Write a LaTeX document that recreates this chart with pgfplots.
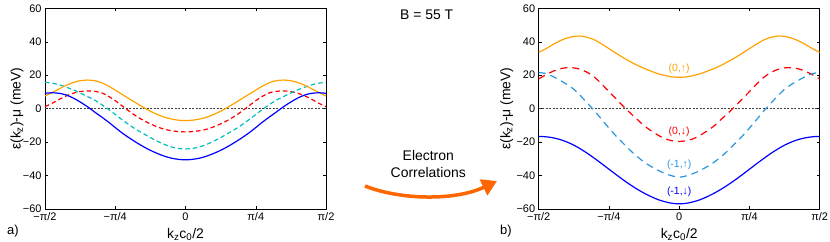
\documentclass[border=0pt]{standalone}
\usepackage{fontspec}
\setmainfont{Liberation Sans}
\usepackage{pgfplots}
\pgfplotsset{compat=1.18}
\usepackage{pgfplotstable}
\usetikzlibrary{arrows.meta}
\definecolor{morange}{RGB}{255,163,0}
\definecolor{mblue}{RGB}{0,0,255}
\definecolor{mred}{RGB}{255,0,0}
\definecolor{mcyan}{RGB}{0,190,190}
\definecolor{msky}{RGB}{40,150,220}
\definecolor{arrowor}{RGB}{255,102,0}

\pgfplotstableread{
t or bl cy rd
-0.500 7.6 9.2 15.7 1.2
-0.475 9.6 9.5 15.3 3.2
-0.450 11.8 9.2 14.3 5.5
-0.425 13.9 8.2 12.9 7.6
-0.400 15.6 6.4 11.3 9.2
-0.375 16.7 4.0 9.4 10.2
-0.350 17.1 1.3 7.3 10.6
-0.325 16.8 -1.8 5.3 10.4
-0.300 15.6 -4.8 2.6 9.6
-0.275 13.6 -7.9 -0.3 7.5
-0.250 11.1 -11.3 -3.5 4.8
-0.225 8.5 -14.6 -6.7 1.6
-0.200 5.9 -17.5 -9.7 -1.6
-0.175 3.3 -20.2 -12.5 -4.5
-0.150 0.8 -22.7 -14.9 -7.0
-0.125 -1.5 -24.9 -17.3 -9.1
-0.100 -3.5 -26.8 -19.5 -10.9
-0.075 -5.1 -28.4 -21.4 -12.3
-0.050 -6.2 -29.6 -22.9 -13.2
-0.025 -6.9 -30.3 -23.8 -13.7
0.000 -7.1 -30.6 -24.1 -13.9
0.025 -6.9 -30.3 -23.8 -13.7
0.050 -6.2 -29.6 -22.9 -13.2
0.075 -5.1 -28.4 -21.4 -12.3
0.100 -3.5 -26.8 -19.5 -10.9
0.125 -1.5 -24.9 -17.3 -9.1
0.150 0.8 -22.7 -14.9 -7.0
0.175 3.3 -20.2 -12.5 -4.5
0.200 5.9 -17.5 -9.7 -1.6
0.225 8.5 -14.6 -6.7 1.6
0.250 11.1 -11.3 -3.5 4.8
0.275 13.6 -7.9 -0.3 7.5
0.300 15.6 -4.8 2.6 9.6
0.325 16.8 -1.8 5.3 10.4
0.350 17.1 1.3 7.3 10.6
0.375 16.7 4.0 9.4 10.2
0.400 15.6 6.4 11.3 9.2
0.425 13.9 8.2 12.9 7.6
0.450 11.8 9.2 14.3 5.5
0.475 9.6 9.5 15.3 3.2
0.500 7.6 9.2 15.7 1.2
}\leftdata

\pgfplotstableread{
t or bl cy rd
-0.500 33.7 -16.6 21.6 17.8
-0.475 35.8 -16.8 21.0 20.2
-0.450 38.3 -17.4 19.3 22.3
-0.425 40.5 -18.4 17.0 23.8
-0.400 42.2 -19.9 14.6 24.5
-0.375 43.2 -21.8 11.6 24.4
-0.350 43.4 -24.2 7.5 23.4
-0.325 42.6 -26.9 3.0 21.5
-0.300 41.0 -29.9 -1.6 18.6
-0.275 38.6 -33.0 -6.6 14.6
-0.250 35.9 -36.2 -11.6 10.2
-0.225 33.2 -39.4 -16.3 5.9
-0.200 30.6 -42.5 -20.6 1.6
-0.175 28.2 -45.4 -24.8 -2.5
-0.150 26.0 -48.1 -28.6 -6.3
-0.125 24.1 -50.5 -31.9 -10.2
-0.100 22.4 -52.6 -34.6 -13.2
-0.075 20.9 -54.4 -36.9 -15.9
-0.050 19.8 -55.7 -38.8 -18.0
-0.025 19.0 -56.6 -40.2 -19.2
0.000 18.8 -56.9 -41.0 -19.6
0.025 19.0 -56.6 -40.2 -19.2
0.050 19.8 -55.7 -38.8 -18.0
0.075 20.9 -54.4 -36.9 -15.9
0.100 22.4 -52.6 -34.6 -13.2
0.125 24.1 -50.5 -31.9 -10.2
0.150 26.0 -48.1 -28.6 -6.3
0.175 28.2 -45.4 -24.8 -2.5
0.200 30.6 -42.5 -20.6 1.6
0.225 33.2 -39.4 -16.3 5.9
0.250 35.9 -36.2 -11.6 10.2
0.275 38.6 -33.0 -6.6 14.6
0.300 41.0 -29.9 -1.6 18.6
0.325 42.6 -26.9 3.0 21.5
0.350 43.4 -24.2 7.5 23.4
0.375 43.2 -21.8 11.6 24.4
0.400 42.2 -19.9 14.6 24.5
0.425 40.5 -18.4 17.0 23.8
0.450 38.3 -17.4 19.3 22.3
0.475 35.8 -16.8 21.0 20.2
0.500 33.7 -16.6 21.6 17.8
}\rightdata

\pgfplotsset{
  panel/.style={
    scale only axis, width=281bp, height=200.67bp,
    xmin=-0.5, xmax=0.5, ymin=-60, ymax=60,
    xtick={-0.5,-0.25,0,0.25,0.5},
    xticklabels={−π/2,−π/4,0,π/4,π/2},
    ytick={-60,-40,-20,0,20,40,60},
    yticklabels={−60,−40,−20,0,20,40,60},
    tick label style={font=\fontsize{11}{13}\selectfont},
    major tick length=3bp,
    tick style={black, line width=0.5bp},
    axis line style={line width=0.6bp},
    label style={font=\fontsize{14}{16}\selectfont},
    xlabel={k\textsubscript{z}c\textsubscript{0}/2},
    ylabel={ε(k\textsubscript{z})-μ (meV)},
    xlabel style={at={(axis description cs:0.5,-0.127)}, anchor=center},
  },
  zeroline/.style={black!75, line width=0.6bp, dash pattern=on 2bp off 1.5bp},
}

\begin{document}
\begin{tikzpicture}
\useasboundingbox (0,0) rectangle (830bp,242bp);

\begin{axis}[panel, at={(45bp,33bp)}, anchor=south west,
  ylabel style={at={(axis description cs:-0.0996,0.5)}, anchor=center}]
\addplot[zeroline] coordinates {(-0.5,0) (0.5,0)};
\addplot[mred, line width=1.2bp, dash pattern=on 4.5bp off 3bp, smooth] table[x=t,y=rd]{\leftdata};
\addplot[mcyan, line width=1.2bp, dash pattern=on 4.5bp off 3bp, smooth] table[x=t,y=cy]{\leftdata};
\addplot[morange, line width=1.2bp, smooth] table[x=t,y=or]{\leftdata};
\addplot[mblue, line width=1.2bp, smooth] table[x=t,y=bl]{\leftdata};
\end{axis}

\begin{axis}[panel, at={(538.7bp,33bp)}, anchor=south west,
  ylabel style={at={(axis description cs:-0.1138,0.5)}, anchor=center}]
\addplot[zeroline] coordinates {(-0.5,0) (0.5,0)};
\addplot[mred, line width=1.2bp, dash pattern=on 7bp off 5bp, smooth] table[x=t,y=rd]{\rightdata};
\addplot[msky, line width=1.2bp, dash pattern=on 7bp off 5bp, smooth] table[x=t,y=cy]{\rightdata};
\addplot[morange, line width=1.2bp, smooth] table[x=t,y=or]{\rightdata};
\addplot[mblue, line width=1.2bp, smooth] table[x=t,y=bl]{\rightdata};
\node[morange, font=\fontsize{10.5}{12}\selectfont] at (axis cs:0,23.8) {(0,↑)};
\node[mred, font=\fontsize{10.5}{12}\selectfont] at (axis cs:0,-13.6) {(0,↓)};
\node[msky, font=\fontsize{10.5}{12}\selectfont] at (axis cs:0,-33.5) {(-1,↑)};
\node[mblue, font=\fontsize{10.5}{12}\selectfont] at (axis cs:0,-49.7) {(-1,↓)};
\end{axis}

\node[font=\fontsize{13}{15}\selectfont] at (13bp,11bp) {a)};
\node[font=\fontsize{13}{15}\selectfont] at (506bp,11bp) {b)};
\node[font=\fontsize{14}{16}\selectfont] at (426.7bp,227.3bp) {B = 55 T};
\node[font=\fontsize{14}{17.3}\selectfont, align=center] at (428.3bp,78.3bp) {Electron\\Correlations};
\draw[arrowor, line width=3.5bp, -{Triangle[length=15bp,width=17bp]}] (365bp,56bp) .. controls (400bp,42bp) and (455bp,41bp) .. (497bp,61bp);
\end{tikzpicture}
\end{document}
